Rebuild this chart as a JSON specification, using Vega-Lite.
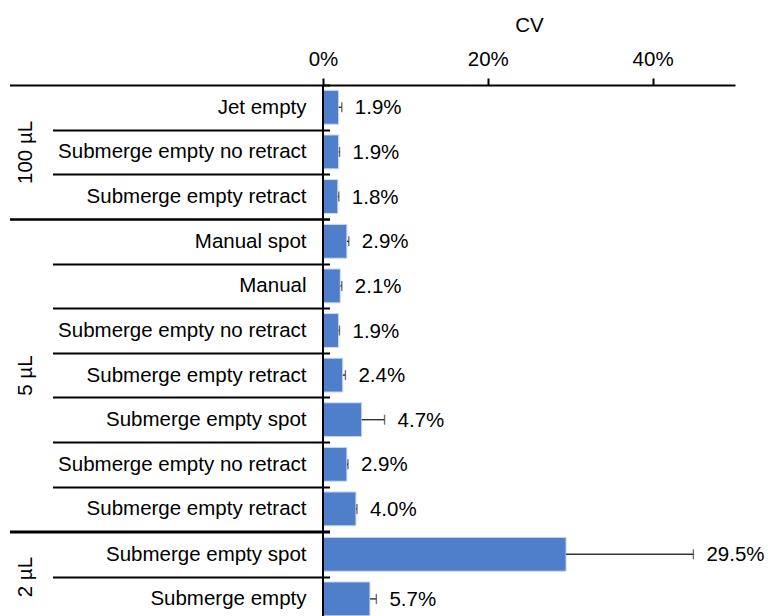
{
  "$schema": "https://vega.github.io/schema/vega-lite/v6.json",
  "background": "white",
  "padding": {"left": 8, "top": 15, "right": 0, "bottom": 0},
  "data": {"values": [
    {"group": "100 µL", "item": "01|Jet empty", "cv": 0.019, "upper": 0.0228},
    {"group": "100 µL", "item": "02|Submerge empty no retract", "cv": 0.019, "upper": 0.0201},
    {"group": "100 µL", "item": "03|Submerge empty retract", "cv": 0.018, "upper": 0.0192},
    {"group": "5 µL", "item": "04|Manual spot", "cv": 0.029, "upper": 0.0313},
    {"group": "5 µL", "item": "05|Manual", "cv": 0.021, "upper": 0.0228},
    {"group": "5 µL", "item": "06|Submerge empty no retract", "cv": 0.019, "upper": 0.0200},
    {"group": "5 µL", "item": "07|Submerge empty retract", "cv": 0.024, "upper": 0.0272},
    {"group": "5 µL", "item": "08|Submerge empty spot", "cv": 0.047, "upper": 0.0747},
    {"group": "5 µL", "item": "09|Submerge empty no retract", "cv": 0.029, "upper": 0.0303},
    {"group": "5 µL", "item": "10|Submerge empty retract", "cv": 0.040, "upper": 0.0412},
    {"group": "2 µL", "item": "11|Submerge empty spot", "cv": 0.295, "upper": 0.4495},
    {"group": "2 µL", "item": "12|Submerge empty", "cv": 0.057, "upper": 0.0648}
  ]},
  "spacing": 0,
  "bounds": "flush",
  "resolve": {"scale": {"x": "independent", "y": "independent"}},
  "vconcat": [
    {
      "width": 412,
      "height": {"step": 44.6},
      "transform": [{"filter": "datum.group === '100 µL'"}],
      "layer": [
        {
          "encoding": {
            "y": {"field": "item", "type": "nominal", "sort": null,
              "scale": {"paddingInner": 0, "paddingOuter": 0},
              "axis": {
                "title": "100 µL",
                "tickSize": {"condition": {"test": "datum.extra || datum.index === 1 || datum.value == null || indexof(['03|Submerge empty retract','10|Submerge empty retract','12|Submerge empty'], datum.value) >= 0", "value": 320}, "value": 277},
                "labelPadding": {"condition": {"test": "datum.extra || datum.index === 1 || datum.value == null || indexof(['03|Submerge empty retract','10|Submerge empty retract','12|Submerge empty'], datum.value) >= 0", "value": -296.5}, "value": -253.5}
              }
            }
          },
          "layer": [
            {"mark": {"type": "bar", "color": "#4f7fcb", "stroke": "#cfdcf2", "strokeWidth": 1, "height": {"band": 0.76}},
             "encoding": {"x": {"field": "cv", "type": "quantitative", "scale": {"domain": [0, 0.5], "nice": false},
               "axis": {"orient": "top", "values": [0, 0.2, 0.4], "format": ".0%", "title": "CV"}}}},
            {"mark": {"type": "rule", "color": "#333", "strokeWidth": 1.4},
             "encoding": {"x": {"field": "cv", "type": "quantitative", "axis": {"orient": "top", "values": [0, 0.2, 0.4], "format": ".0%", "title": "CV"}}, "x2": {"field": "upper"}}},
            {"mark": {"type": "tick", "color": "#333", "thickness": 1.4, "size": 10},
             "encoding": {"x": {"field": "upper", "type": "quantitative", "axis": {"orient": "top", "values": [0, 0.2, 0.4], "format": ".0%", "title": "CV"}}}},
            {"mark": {"type": "text", "align": "left", "baseline": "middle", "dx": 13, "dy": 1, "fontSize": 20.5, "font": "Liberation Sans", "color": "#000"},
             "encoding": {"x": {"field": "upper", "type": "quantitative", "axis": {"orient": "top", "values": [0, 0.2, 0.4], "format": ".0%", "title": "CV"}}, "text": {"field": "cv", "type": "quantitative", "format": ".1%"}}}
          ]
        },
        {"mark": {"type": "rule", "color": "#000", "strokeWidth": 2}, "encoding": {"x": {"datum": 0, "type": "quantitative", "axis": {"orient": "top", "values": [0, 0.2, 0.4], "format": ".0%", "title": "CV"}}}}
      ]
    },
    {
      "width": 412,
      "height": {"step": 44.6},
      "transform": [{"filter": "datum.group === '5 µL'"}],
      "layer": [
        {
          "encoding": {
            "y": {"field": "item", "type": "nominal", "sort": null,
              "scale": {"paddingInner": 0, "paddingOuter": 0},
              "axis": {
                "title": "5 µL",
                "tickSize": {"condition": {"test": "datum.extra || datum.index === 1 || datum.value == null || indexof(['03|Submerge empty retract','10|Submerge empty retract','12|Submerge empty'], datum.value) >= 0", "value": 320}, "value": 277},
                "labelPadding": {"condition": {"test": "datum.extra || datum.index === 1 || datum.value == null || indexof(['03|Submerge empty retract','10|Submerge empty retract','12|Submerge empty'], datum.value) >= 0", "value": -296.5}, "value": -253.5}
              }
            }
          },
          "layer": [
            {"mark": {"type": "bar", "color": "#4f7fcb", "stroke": "#cfdcf2", "strokeWidth": 1, "height": {"band": 0.76}},
             "encoding": {"x": {"field": "cv", "type": "quantitative", "scale": {"domain": [0, 0.5], "nice": false}, "axis": null}}},
            {"mark": {"type": "rule", "color": "#333", "strokeWidth": 1.4},
             "encoding": {"x": {"field": "cv", "type": "quantitative", "axis": null}, "x2": {"field": "upper"}}},
            {"mark": {"type": "tick", "color": "#333", "thickness": 1.4, "size": 10},
             "encoding": {"x": {"field": "upper", "type": "quantitative", "axis": null}}},
            {"mark": {"type": "text", "align": "left", "baseline": "middle", "dx": 13, "dy": 1, "fontSize": 20.5, "font": "Liberation Sans", "color": "#000"},
             "encoding": {"x": {"field": "upper", "type": "quantitative", "axis": null}, "text": {"field": "cv", "type": "quantitative", "format": ".1%"}}}
          ]
        },
        {"mark": {"type": "rule", "color": "#000", "strokeWidth": 2}, "encoding": {"x": {"datum": 0, "type": "quantitative", "axis": null}}}
      ]
    },
    {
      "width": 412,
      "height": {"step": 44.6},
      "transform": [{"filter": "datum.group === '2 µL'"}],
      "layer": [
        {
          "encoding": {
            "y": {"field": "item", "type": "nominal", "sort": null,
              "scale": {"paddingInner": 0, "paddingOuter": 0},
              "axis": {
                "title": "2 µL",
                "tickSize": {"condition": {"test": "datum.extra || datum.index === 1 || datum.value == null || indexof(['03|Submerge empty retract','10|Submerge empty retract','12|Submerge empty'], datum.value) >= 0", "value": 320}, "value": 277},
                "labelPadding": {"condition": {"test": "datum.extra || datum.index === 1 || datum.value == null || indexof(['03|Submerge empty retract','10|Submerge empty retract','12|Submerge empty'], datum.value) >= 0", "value": -296.5}, "value": -253.5}
              }
            }
          },
          "layer": [
            {"mark": {"type": "bar", "color": "#4f7fcb", "stroke": "#cfdcf2", "strokeWidth": 1, "height": {"band": 0.76}},
             "encoding": {"x": {"field": "cv", "type": "quantitative", "scale": {"domain": [0, 0.5], "nice": false}, "axis": null}}},
            {"mark": {"type": "rule", "color": "#333", "strokeWidth": 1.4},
             "encoding": {"x": {"field": "cv", "type": "quantitative", "axis": null}, "x2": {"field": "upper"}}},
            {"mark": {"type": "tick", "color": "#333", "thickness": 1.4, "size": 10},
             "encoding": {"x": {"field": "upper", "type": "quantitative", "axis": null}}},
            {"mark": {"type": "text", "align": "left", "baseline": "middle", "dx": 13, "dy": 1, "fontSize": 20.5, "font": "Liberation Sans", "color": "#000"},
             "encoding": {"x": {"field": "upper", "type": "quantitative", "axis": null}, "text": {"field": "cv", "type": "quantitative", "format": ".1%"}}}
          ]
        },
        {"mark": {"type": "rule", "color": "#000", "strokeWidth": 2}, "encoding": {"x": {"datum": 0, "type": "quantitative", "axis": null}}}
      ]
    }
  ],
  "config": {
    "view": {"stroke": null},
    "font": "Liberation Sans",
    "axisX": {
      "grid": false, "domainColor": "#000", "domainWidth": 2, "tickColor": "#000", "tickWidth": 2, "tickSize": 7,
      "labelFont": "Liberation Sans", "labelFontSize": 20.5, "labelColor": "#000", "labelBaseline": "alphabetic", "labelPadding": 12.3, "labelFlush": false,
      "titleFont": "Liberation Sans", "titleFontSize": 20.5, "titleFontWeight": "normal", "titleColor": "#000", "titleY": -53.7, "titleBaseline": "alphabetic"
    },
    "axisY": {
      "titleX": -298, "titleBaseline": "alphabetic", "titleFont": "Liberation Sans", "titleFontSize": 20.5, "titleFontWeight": "normal", "titleColor": "#000",
      "labelExpr": "split(datum.value, '|')[1]", "labelFont": "Liberation Sans", "labelFontSize": 20.5, "labelColor": "#000", "labelLimit": 400,
      "domain": false, "offset": -6.5, "tickBand": "extent", "tickExtra": true, "tickColor": "#000", "tickWidth": 2, "grid": false
    }
  }
}
